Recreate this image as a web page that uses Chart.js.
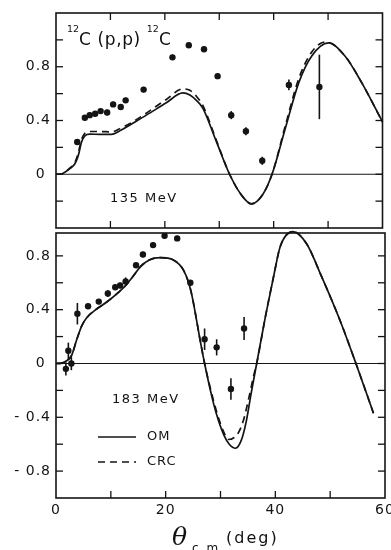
<!DOCTYPE html>
<html>
<head>
<meta charset="utf-8" />
<title>12C(p,p)12C</title>
<script src="https://cdn.jsdelivr.net/npm/chart.js"></script>
<style>
  body { margin: 0; background: #fff; }
  #wrap { position: relative; width: 391px; height: 550px; overflow: hidden;
          font-family: "DejaVu Sans", sans-serif; color: #111; }
  canvas { position: absolute; left: 0; }
  .note { position: absolute; white-space: nowrap; line-height: 1; letter-spacing: 1.5px; }
  .sup { position: relative; font-size: 9.5px; letter-spacing: 0; }
</style>
</head>
<body>
<div id="wrap">
  <canvas id="c135" width="391" height="232" style="top:0"></canvas>
  <canvas id="c183" width="391" height="320" style="top:230px"></canvas>

  <div class="note" style="left:67px;top:31px;font-size:17px;letter-spacing:0.6px"><span class="sup" style="top:-13px">12</span>C (p,p) <span class="sup" style="top:-13px">12</span>C</div>
  <div class="note" style="left:110px;top:191px;font-size:13px">135 MeV</div>
  <div class="note" style="left:112px;top:392px;font-size:13px">183 MeV</div>

  <div class="note" style="left:172px;top:524px;font-size:25px;font-family:'DejaVu Serif',serif;font-style:italic;letter-spacing:0">θ</div>
  <div class="note" style="left:192px;top:542px;font-size:12px;letter-spacing:2px">c.m.</div>
  <div class="note" style="left:226px;top:530px;font-size:16px;letter-spacing:2px">(deg)</div>
</div>

<script>
// angles in degrees (c.m.), analysing power values

// 135 MeV data
const theta135 = [3.9, 5.3, 6.2, 7.2, 8.2, 9.4, 10.5, 11.9, 12.8, 16.1, 21.4, 24.4, 27.2, 29.7, 32.2, 34.9, 37.9, 42.8, 48.4];
const ay135    = [0.24, 0.42, 0.44, 0.45, 0.47, 0.46, 0.52, 0.50, 0.55, 0.63, 0.87, 0.96, 0.93, 0.73, 0.44, 0.32, 0.10, 0.665, 0.65];
const err135   = [0.02, 0.02, 0.02, 0.02, 0.02, 0.02, 0.02, 0.02, 0.02, 0.02, 0.02, 0.02, 0.02, 0.02, 0.03, 0.03, 0.03, 0.04, 0.24];

// 135 MeV optical model
const thOm135 = [0, 1.0, 1.7, 2.6, 3.5, 4.1, 4.7, 5.3, 6.2, 8.0, 10.2, 12.0, 14.1, 16.6, 20.2, 23.3, 24.6, 25.8, 27.0, 29.4, 31.9, 34.0, 35.9, 38.0, 39.7, 42.2, 44.6, 47.0, 50.1, 53.1, 56.2, 60];
const om135   = [0, 0.002, 0.017, 0.043, 0.08, 0.14, 0.24, 0.285, 0.298, 0.297, 0.297, 0.33, 0.38, 0.44, 0.53, 0.605, 0.59, 0.55, 0.49, 0.25, 0.0, -0.15, -0.22, -0.15, 0.0, 0.35, 0.68, 0.88, 0.977, 0.88, 0.68, 0.39];

// 135 MeV coupled reaction channels
const thCrc135 = [0, 1.0, 1.7, 2.6, 3.5, 4.1, 4.7, 5.3, 6.2, 8.0, 10.2, 12.0, 14.1, 16.6, 20.2, 23.3, 24.6, 25.8, 27.0, 29.4, 31.9, 34.0, 35.9, 38.0, 39.7, 42.2, 44.6, 47.0, 49.6, 53.1, 56.2, 60];
const crc135   = [0, 0.002, 0.018, 0.047, 0.09, 0.16, 0.26, 0.305, 0.318, 0.318, 0.315, 0.345, 0.39, 0.455, 0.555, 0.635, 0.625, 0.58, 0.51, 0.26, 0.0, -0.15, -0.22, -0.15, 0.0, 0.37, 0.71, 0.91, 0.985, 0.88, 0.68, 0.39];

// 183 MeV data
const theta183 = [1.8, 2.25, 2.8, 3.9, 5.85, 7.8, 9.45, 10.8, 11.7, 12.7, 14.6, 15.85, 17.7, 19.8, 22.1, 24.5, 27.1, 29.3, 31.9, 34.3];
const ay183    = [-0.04, 0.095, 0.0, 0.37, 0.425, 0.46, 0.52, 0.567, 0.58, 0.61, 0.73, 0.81, 0.88, 0.95, 0.93, 0.60, 0.18, 0.12, -0.19, 0.26];
const err183   = [0.05, 0.06, 0.05, 0.08, 0.02, 0.02, 0.025, 0.02, 0.02, 0.03, 0.02, 0.02, 0.02, 0.02, 0.02, 0.02, 0.08, 0.06, 0.08, 0.085];

// 183 MeV optical model
const thOm183 = [0, 1.0, 1.95, 2.85, 3.8, 4.7, 5.6, 7.4, 9.2, 11.7, 12.7, 14.1, 15.4, 17.0, 19.0, 21.4, 23.3, 24.6, 26.3, 27.1, 28.75, 29.6, 30.6, 31.6, 32.75, 33.8, 34.7, 35.6, 36.6, 38.2, 39.7, 40.9, 43.2, 45.7, 48.5, 51.8, 54.7, 57.9];
const om183   = [0, 0.003, 0.02, 0.06, 0.18, 0.28, 0.34, 0.405, 0.455, 0.54, 0.58, 0.65, 0.72, 0.77, 0.787, 0.77, 0.69, 0.54, 0.17, 0.0, -0.30, -0.42, -0.53, -0.60, -0.63, -0.57, -0.43, -0.22, 0.0, 0.35, 0.65, 0.87, 0.98, 0.89, 0.64, 0.32, 0.0, -0.37];

// 183 MeV coupled reaction channels
const thCrc183 = [0, 1.0, 1.95, 2.85, 3.8, 4.7, 5.6, 7.4, 9.2, 11.7, 12.7, 14.1, 15.4, 17.0, 19.0, 21.4, 23.3, 24.6, 26.3, 27.1, 28.75, 29.6, 30.6, 31.5, 32.5, 33.2, 34.2, 35.2, 36.0, 36.6, 38.2, 39.7, 40.9, 43.2, 45.7, 48.5, 51.8, 54.7, 57.9];
const crc183   = [0, 0.003, 0.02, 0.06, 0.18, 0.28, 0.34, 0.405, 0.455, 0.54, 0.58, 0.65, 0.72, 0.77, 0.787, 0.77, 0.69, 0.54, 0.17, 0.0, -0.28, -0.40, -0.51, -0.565, -0.55, -0.52, -0.42, -0.25, -0.10, 0.0, 0.35, 0.65, 0.87, 0.98, 0.89, 0.64, 0.32, 0.0, -0.37];

// axis ticks
const xLabels = [0, 20, 40, 60];
const xMinor = [10, 20, 30, 40, 50];
const yLabels135 = [0, 0.4, 0.8];
const yMinor135 = [-0.2, 0, 0.2, 0.4, 0.6, 0.8, 1.0];
const yLabels183 = [-0.8, -0.4, 0, 0.4, 0.8];
const yMinor183 = [-0.8, -0.6, -0.4, -0.2, 0, 0.2, 0.4, 0.6, 0.8];

const ink = '#141414';
const FONT = { family: '"DejaVu Sans", sans-serif', size: 14 };

const zip = (xs, ys) => xs.map((x, i) => ({ x: x, y: ys[i] }));

function fmt(v) {
  if (Math.abs(v) < 1e-9) return '0 ';
  return (v < 0 ? '- ' : '') + Math.abs(v).toFixed(1);
}

// frame, inward ticks, zero line, error bars, legend
const framePlugin = {
  id: 'frame',
  beforeUpdate(chart) { chart.ctx.letterSpacing = '1px'; },
  beforeDatasetsDraw(chart, args, o) {
    const { ctx, chartArea: a, scales: { x, y } } = chart;
    ctx.save();
    ctx.strokeStyle = ink;
    ctx.lineWidth = 1.1;
    const y0 = y.getPixelForValue(0);
    ctx.beginPath(); ctx.moveTo(a.left, y0); ctx.lineTo(a.right, y0); ctx.stroke();
    ctx.lineWidth = 1.6;
    chart.data.datasets.forEach(ds => {
      if (!ds.errors) return;
      ds.data.forEach((p, i) => {
        const px = x.getPixelForValue(p.x);
        ctx.beginPath();
        ctx.moveTo(px, y.getPixelForValue(p.y - ds.errors[i]));
        ctx.lineTo(px, y.getPixelForValue(p.y + ds.errors[i]));
        ctx.stroke();
      });
    });
    ctx.restore();
  },
  afterDraw(chart, args, o) {
    const { ctx, chartArea: a, scales: { x, y } } = chart;
    ctx.save();
    ctx.strokeStyle = ink;
    ctx.lineWidth = 1.6;
    ctx.strokeRect(a.left, a.top, a.right - a.left, a.bottom - a.top);
    ctx.lineWidth = 1.3;
    const seg = (x1, y1, x2, y2) => { ctx.beginPath(); ctx.moveTo(x1, y1); ctx.lineTo(x2, y2); ctx.stroke(); };
    o.yMinor.forEach(v => {
      const py = y.getPixelForValue(v);
      seg(a.left, py, a.left + 7, py);
      seg(a.right, py, a.right - 7, py);
    });
    o.xMinor.forEach(v => {
      const px = x.getPixelForValue(v);
      seg(px, a.bottom, px, a.bottom - 7);
      if (o.topTicks) seg(px, a.top, px, a.top + 7);
    });
    if (o.legend) {
      const lg = o.legend;
      chart.data.datasets.filter(d => d.showLine).forEach((d, i) => {
        const ly = a.top + lg.top + i * lg.gap;
        ctx.lineWidth = d.borderWidth;
        ctx.setLineDash(d.borderDash || []);
        seg(a.left + lg.left, ly, a.left + lg.left + lg.len, ly);
        ctx.setLineDash([]);
        ctx.fillStyle = ink;
        ctx.font = '13px "DejaVu Sans"';
        ctx.textBaseline = 'middle';
        ctx.fillText(d.label, a.left + lg.left + lg.len + 11, ly);
      });
    }
    ctx.restore();
  }
};

function curve(label, xs, ys, dash) {
  return {
    label: label, data: zip(xs, ys), showLine: true, pointRadius: 0,
    borderColor: ink, borderWidth: 1.7, borderDash: dash,
    cubicInterpolationMode: 'monotone', clip: 4
  };
}

function points(xs, ys, errs) {
  return {
    label: 'data', data: zip(xs, ys), errors: errs,
    pointRadius: 3.2, pointBackgroundColor: ink, pointBorderWidth: 0
  };
}

function makePanel(id, opts) {
  return new Chart(document.getElementById(id), {
    type: 'scatter',
    data: {
      datasets: [
        curve('OM', opts.omX, opts.omY, []),
        curve('CRC', opts.crcX, opts.crcY, [7, 5]),
        points(opts.ptX, opts.ptY, opts.err)
      ]
    },
    options: {
      responsive: false,
      animation: false,
      events: [],
      layout: { autoPadding: false, padding: opts.padding },
      plugins: {
        legend: { display: false },
        tooltip: { enabled: false },
        frame: { yMinor: opts.yMinor, xMinor: xMinor, topTicks: opts.topTicks, legend: opts.legend }
      },
      scales: {
        x: {
          type: 'linear', min: 0, max: 60,
          grid: { display: false, drawTicks: false },
          border: { display: false },
          ticks: { display: opts.xTicks, padding: 4, color: ink, font: FONT, callback: v => v },
          afterBuildTicks: s => { s.ticks = xLabels.map(v => ({ value: v })); },
          afterFit: s => { s.height = opts.xHeight; s.paddingLeft = 0; s.paddingRight = 0; }
        },
        y: {
          min: opts.yMin, max: opts.yMax,
          grid: { display: false, drawTicks: false },
          border: { display: false },
          ticks: { padding: 5, color: ink, font: FONT, callback: v => fmt(v) },
          afterBuildTicks: s => { s.ticks = opts.yLabels.map(v => ({ value: v })); },
          afterFit: s => { s.width = 56; s.paddingTop = 0; s.paddingBottom = 0; }
        }
      }
    },
    plugins: [framePlugin]
  });
}

makePanel('c135', {
  omX: thOm135, omY: om135, crcX: thCrc135, crcY: crc135,
  ptX: theta135, ptY: ay135, err: err135,
  yMin: -0.4, yMax: 1.2, yLabels: yLabels135, yMinor: yMinor135,
  topTicks: true, xTicks: false, xHeight: 0,
  padding: { top: 13, right: 8.5, bottom: 4, left: 0 }
});

makePanel('c183', {
  omX: thOm183, omY: om183, crcX: thCrc183, crcY: crc183,
  ptX: theta183, ptY: ay183, err: err183,
  yMin: -1.0, yMax: 0.97, yLabels: yLabels183, yMinor: yMinor183,
  topTicks: false, xTicks: true, xHeight: 52,
  legend: { left: 42, len: 38, top: 204, gap: 25 },
  padding: { top: 3, right: 6, bottom: 0, left: 0 }
});
</script>
</body>
</html>
